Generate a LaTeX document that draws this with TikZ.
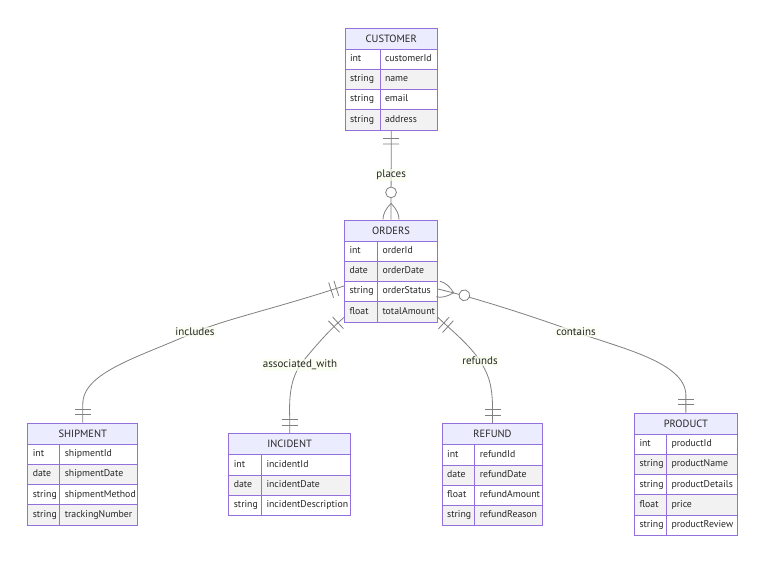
\documentclass[tikz,border=0pt]{standalone}
\usepackage{fontspec}
\setmainfont{PT Sans}
\usetikzlibrary{calc,positioning,decorations.markings}

\definecolor{erpurple}{HTML}{9370DB}
\definecolor{erheadfill}{HTML}{ECECFF}
\definecolor{rowgray}{HTML}{F2F2F2}
\definecolor{relgray}{HTML}{808080}
\definecolor{lblbg}{HTML}{F9FFEC}

\tikzset{
  erframe/.style={draw=erpurple, line width=1pt, anchor=north west, inner sep=0},
  erhead/.style={erframe, fill=erheadfill, minimum height=21, text=black!85,
    font=\fontsize{10.5}{12}\selectfont},
  ercell/.style={draw=erpurple, line width=1pt, anchor=north west, minimum height=20.25,
    inner xsep=5, inner ysep=0, align=left, text height=7, text depth=2.5, text=black!85,
    font=\fontsize{9.8}{11}\selectfont},
  rel/.style={draw=relgray, line width=0.8pt},
  rellabel/.style={fill=lblbg, fill opacity=0.7, text opacity=1, inner sep=1, text=black!85,
    font=\fontsize{11}{13}\selectfont},
  onefrom/.style={postaction={decorate, decoration={markings,
    mark=at position 8pt with {\draw[rel] (0,-8) -- (0,8);},
    mark=at position 13.5pt with {\draw[rel] (0,-8) -- (0,8);}}}},
  oneto/.style={postaction={decorate, decoration={markings,
    mark=at position -8pt with {\draw[rel] (0,-8) -- (0,8);},
    mark=at position -13.5pt with {\draw[rel] (0,-8) -- (0,8);}}}},
  manyfrom/.style={postaction={decorate, decoration={markings,
    mark=at position 0.1pt with {\draw[rel] (0,8) .. controls (5.3,8) and (10.7,5.3) .. (16,0)
      .. controls (10.7,-5.3) and (5.3,-8) .. (0,-8);
      \draw[rel, fill=white] (27,0) circle (5.4);}}}}
}

% name, x, y, width, type width, title, type/attribute list
\newcommand{\erentity}[7]{%
  \foreach \r [count=\n] in {#7} {\xdef\ernrows{\n}}
  \pgfmathsetmacro\ertypew{#5-10}
  \pgfmathsetmacro\erattrw{#4-#5-10}
  \node[erhead, minimum width=#4] (#1-h) at (#2,#3) {#6};
  \foreach \etype/\ename [count=\i] in {#7} {
    \ifodd\i \def\rowfill{white}\else\def\rowfill{rowgray}\fi
    \node[ercell, fill=\rowfill, text width=\ertypew pt] (#1-t\i) at (#2,{#3+21+(\i-1)*20.25}) {\etype};
    \node[ercell, fill=\rowfill, text width=\erattrw pt] (#1-a\i) at ({#2+#5},{#3+21+(\i-1)*20.25}) {\ename};
  }
  \node[erframe, minimum width=#4, minimum height={21+20.25*\ernrows}] (#1) at (#2,#3) {};
}

\begin{document}
\begin{tikzpicture}[x=1pt, y=-1pt]
\useasboundingbox[fill=white] (0,0) rectangle (763,562);

% Entities
\erentity{cust}{344.5}{27.5}{92.5}{35}{CUSTOMER}{int/customerId, string/name, string/email, string/address}
\erentity{ord}{344}{219.5}{93}{33}{ORDERS}{int/orderId, date/orderDate, string/orderStatus, float/totalAmount}
\erentity{ship}{27.3}{422.7}{110}{32}{SHIPMENT}{int/shipmentId, date/shipmentDate, string/shipmentMethod, string/trackingNumber}
\erentity{inc}{228.3}{433.3}{121.7}{32.7}{INCIDENT}{int/incidentId, date/incidentDate, string/incidentDescription}
\erentity{ref}{441.7}{423.3}{100.6}{32.6}{REFUND}{int/refundId, date/refundDate, float/refundAmount, string/refundReason}
\erentity{prod}{634}{412.7}{102.7}{32}{PRODUCT}{int/productId, string/productName, string/productDetails, float/price, string/productReview}

% Relationships
\draw[rel, manyfrom, oneto] (ord.north) -- node[rellabel] (l-places) {places} (cust.south);
\draw[rel, onefrom, oneto] ($(ord.west)+(0,15)$) .. controls (270,310) and (230,318) .. (195,332)
  node[rellabel] (l-includes) {includes} .. controls (140,357) and (82,372) .. ($(ship.north)+(0,-18)$) -- (ship.north);
\draw[rel, onefrom, oneto] ($(ord.south west)+(0,-5)$) .. controls (330,329) and (312,350) .. (300,365)
  node[rellabel] (l-assoc) {associated\_with} .. controls (292,378) and (289,392) .. ($(inc.north)+(0,-18)$) -- (inc.north);
\draw[rel, onefrom, oneto] ($(ord.south east)+(0,-5)$) .. controls (450,329) and (470,345) .. (480,361)
  node[rellabel] (l-refunds) {refunds} .. controls (487,372) and (492,382) .. ($(ref.north)+(0,-18)$) -- (ref.north);
\draw[rel, manyfrom, oneto] ($(ord.east)+(0,18)$) .. controls (480,299) and (540,319) .. (576,332)
  node[rellabel] (l-contains) {contains} .. controls (620,348) and (685,362) .. ($(prod.north)+(0,-18)$) -- (prod.north);

\end{tikzpicture}
\end{document}
